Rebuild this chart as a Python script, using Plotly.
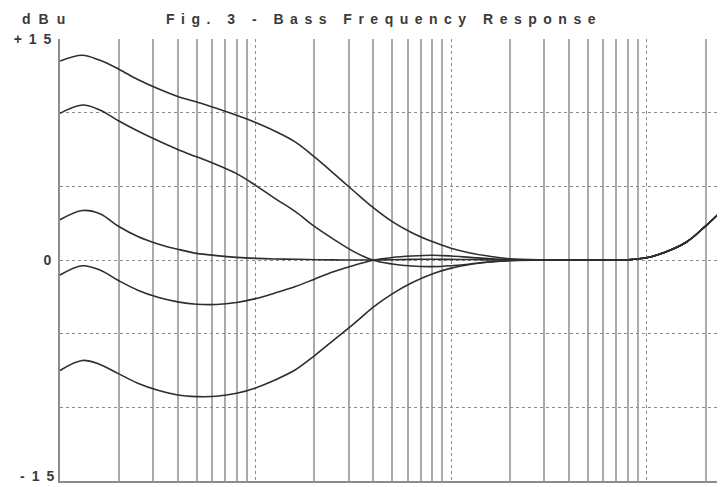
import plotly.graph_objects as go

# ---- data ----
freq_hz = [10, 13, 16, 20, 25, 32, 40, 50, 63, 80, 100, 125, 160, 200, 250, 320, 400, 500,
           630, 800, 1000, 1250, 1600, 2000, 3000, 5000, 8000, 10000, 12500, 16000, 20000, 24000]

boost_max = [13.5, 13.9, 13.55, 12.95, 12.25, 11.6, 11.1, 10.73, 10.3, 9.82, 9.33, 8.76, 8.0,
             7.0, 5.9, 4.65, 3.55, 2.6, 1.85, 1.25, 0.8, 0.48, 0.24, 0.08, 0.01, 0, 0.02, 0.15,
             0.54, 1.22, 2.3, 3.28]
boost_mid = [9.95, 10.52, 10.18, 9.43, 8.75, 8.07, 7.5, 7.0, 6.48, 5.86, 5.07, 4.2, 3.28,
             2.28, 1.42, 0.55, -0.02, -0.27, -0.41, -0.45, -0.39, -0.27, -0.12, -0.03, 0, 0, 0.02,
             0.15, 0.54, 1.22, 2.3, 3.28]
boost_low = [2.73, 3.36, 3.14, 2.27, 1.59, 1.07, 0.73, 0.45, 0.3, 0.18, 0.11, 0.07, 0.05,
             0.02, 0.01, 0, 0, 0.02, 0.04, 0.05, 0.04, 0.03, 0.01, 0, 0, 0, 0.02,
             0.15, 0.54, 1.22, 2.3, 3.28]
cut_low = [-1.02, -0.39, -0.68, -1.41, -2.05, -2.55, -2.84, -3.0, -3.02, -2.88, -2.62, -2.25, -1.8,
           -1.3, -0.8, -0.35, -0.02, 0.17, 0.27, 0.32, 0.27, 0.18, 0.08, 0.02, 0, 0, 0.02,
           0.15, 0.54, 1.22, 2.3, 3.28]
cut_max = [-7.5, -6.82, -7.09, -7.73, -8.36, -8.86, -9.16, -9.27, -9.25, -9.05, -8.68, -8.16, -7.45,
           -6.5, -5.45, -4.3, -3.2, -2.3, -1.55, -0.95, -0.55, -0.3, -0.14, -0.05, 0, 0, 0.02,
           0.15, 0.54, 1.22, 2.3, 3.28]

series = [boost_max, boost_mid, boost_low, cut_low, cut_max]

grid_solid = [20, 30, 40, 50, 60, 70, 80, 90,
              200, 300, 400, 500, 600, 700, 800, 900,
              2000, 3000, 4000, 5000, 6000, 7000, 8000, 9000, 20000]
grid_decade = [100, 1000, 10000]

y_ticks = [-15, -10, -5, 0, 5, 10, 15]
y_labels = ["", "", "", "0", "", "", "+15"]
y_bottom_value = -15
y_bottom_label = "-15"

title_text = "Fig. 3 - Bass Frequency Response"
unit_text = "dBu"

FONT = "Liberation Sans, Arial, sans-serif"
TXT = "#3a3a3a"


def spaced(s, px):
    # letter spacing between characters only (no trailing gap)
    if len(s) < 2:
        return s
    return f'<span style="letter-spacing:{px}px">{s[:-1]}</span>{s[-1]}'


fig = go.Figure()
for ys in series:
    fig.add_trace(go.Scatter(
        x=freq_hz, y=ys, mode="lines",
        line=dict(color="#2e2e2e", width=1.6, shape="spline", smoothing=1.0),
        hoverinfo="skip", showlegend=False))

label_font = dict(family=FONT, size=14, color=TXT, weight="bold")

# the page body has an 8px default margin, so the figure is sized to fit the window
fig.update_layout(
    width=717, height=479,
    margin=dict(l=52, r=4, t=31, b=6, autoexpand=False),
    paper_bgcolor="white", plot_bgcolor="white",
    font=dict(family=FONT, size=14, color=TXT),
    showlegend=False,
    xaxis=dict(
        type="log", range=[1, 4.3802], automargin=False,
        tickmode="array", tickvals=grid_solid, showticklabels=False, ticks="",
        showgrid=True, gridcolor="#aaaaaa", gridwidth=1.6,
        minor=dict(tickmode="array", tickvals=grid_decade, showgrid=True,
                   gridcolor="#8c8c8c", gridwidth=1, griddash="dot", ticks=""),
        showline=True, linecolor="#8c8c8c", linewidth=1.6,
        zeroline=False, fixedrange=True,
    ),
    yaxis=dict(
        range=[-15, 15], tickmode="array", tickvals=y_ticks, automargin=False,
        ticktext=[spaced(t, 7) for t in y_labels],
        ticks="", ticklabelstandoff=4, ticklabeloverflow="allow",
        tickfont=label_font,
        showgrid=True, gridcolor="#8c8c8c", gridwidth=1, griddash="dot",
        showline=True, linecolor="#8c8c8c", linewidth=1.6,
        zeroline=False, fixedrange=True,
    ),
    annotations=[
        dict(text=spaced(title_text, 6.5), xref="paper", yref="paper",
             x=0.158, y=1.045, xanchor="left", yanchor="middle", showarrow=False,
             font=label_font),
        dict(text=spaced(unit_text, 8), xref="paper", yref="paper",
             x=-0.0605, y=1.045, xanchor="left", yanchor="middle", showarrow=False,
             font=label_font),
        dict(text=spaced(y_bottom_label, 7), xref="paper", yref="y",
             x=0, y=y_bottom_value, xanchor="right", yanchor="middle",
             xshift=-4, yshift=5, showarrow=False, font=label_font),
    ],
)

fig.write_html("out.html")
